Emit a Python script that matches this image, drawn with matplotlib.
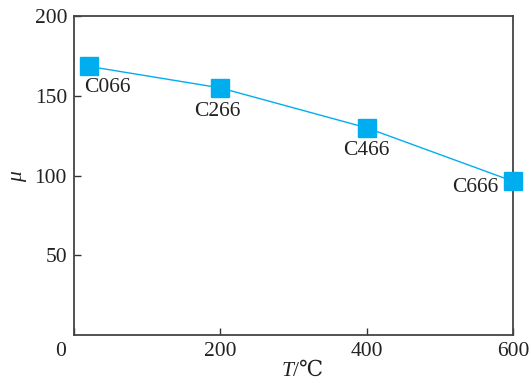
import matplotlib
matplotlib.use("Agg")
import matplotlib.pyplot as plt
import matplotlib.transforms as mtransforms

# data
temps = [20, 200, 400, 600]
mu = [168.5, 155, 130, 96.5]
names = ["C066", "C266", "C466", "C666"]
# label offsets in pixels (dx, dy) from each marker
offsets = [(19, -21), (-3, -24), (0, -23), (-38, -6)]

plt.rcParams['font.family'] = ['Liberation Serif', 'DejaVu Serif', 'DejaVu Sans']
plt.rcParams['mathtext.fontset'] = 'custom'
plt.rcParams['mathtext.rm'] = 'Liberation Serif'
plt.rcParams['mathtext.it'] = 'Liberation Serif:italic'

blue = '#00aeef'
fs = 15.5

fig = plt.figure(figsize=(5.32, 3.83), dpi=100)
ax = fig.add_axes([0.139, 0.125, 0.825, 0.833])

ax.plot(temps, mu, color=blue, lw=1.0, marker='s', markersize=12.5,
        markerfacecolor=blue, markeredgecolor=blue, clip_on=False, zorder=3)

for t, m, n, (dx, dy) in zip(temps, mu, names, offsets):
    ax.annotate(n, (t, m), xytext=(dx, dy), textcoords='offset pixels',
                ha='center', va='center', fontsize=fs, color='#222222')

ax.set_xlim(0, 600)
ax.set_ylim(0, 200)
ax.set_xticks([0, 200, 400, 600])
ax.set_yticks([50, 100, 150, 200])
ax.tick_params(direction='in', length=5, width=1.0, labelsize=fs,
               colors='#333333', labelcolor='#222222', pad=5)

# the "0" sits left of the corner in the reference
lbl0 = ax.get_xticklabels()[0]
lbl0.set_transform(lbl0.get_transform() +
                   mtransforms.ScaledTranslation(-0.13, 0, fig.dpi_scale_trans))

for s in ax.spines.values():
    s.set_linewidth(1.3)
    s.set_color('#444444')

# x label: italic T followed by /℃
ax.text(0.5, -0.085, 'T', transform=ax.transAxes, ha='right', va='top',
        fontsize=fs, style='italic', color='#222222')
ax.text(0.5, -0.085, '/℃', transform=ax.transAxes, ha='left', va='top',
        fontsize=fs, color='#222222')
ax.set_ylabel(r'$\mathit{\mu}$', fontsize=fs, labelpad=4, color='#222222')

fig.savefig('out.png', dpi=100)
